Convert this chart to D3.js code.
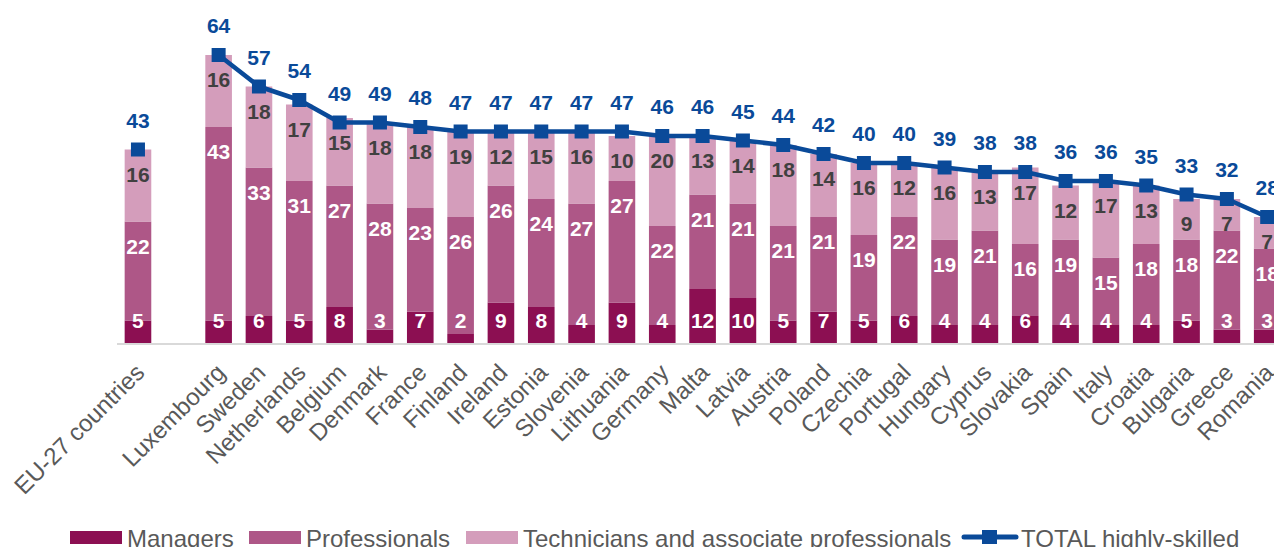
<!DOCTYPE html>
<html>
<head>
<meta charset="utf-8">
<script src="https://cdn.jsdelivr.net/npm/d3@7"></script>
<style>
  html, body { margin: 0; padding: 0; background: #ffffff; }
  svg { display: block; font-family: "Liberation Sans", Arial, sans-serif; }
</style>
</head>
<body>
<svg id="chart" width="1274" height="547"></svg>
<script>
// Highly-skilled employment shares by occupation group (%)
const countries = ["EU-27 countries", "", "Luxembourg", "Sweden", "Netherlands", "Belgium", "Denmark",
  "France", "Finland", "Ireland", "Estonia", "Slovenia", "Lithuania", "Germany", "Malta", "Latvia",
  "Austria", "Poland", "Czechia", "Portugal", "Hungary", "Cyprus", "Slovakia", "Spain", "Italy",
  "Croatia", "Bulgaria", "Greece", "Romania"];
const managers      = [5, null, 5, 6, 5, 8, 3, 7, 2, 9, 8, 4, 9, 4, 12, 10, 5, 7, 5, 6, 4, 4, 6, 4, 4, 4, 5, 3, 3];
const professionals = [22, null, 43, 33, 31, 27, 28, 23, 26, 26, 24, 27, 27, 22, 21, 21, 21, 21, 19, 22, 19, 21, 16, 19, 15, 18, 18, 22, 18];
const technicians   = [16, null, 16, 18, 17, 15, 18, 18, 19, 12, 15, 16, 10, 20, 13, 14, 18, 14, 16, 12, 16, 13, 17, 12, 17, 13, 9, 7, 7];
const totals        = [43, null, 64, 57, 54, 49, 49, 48, 47, 47, 47, 47, 47, 46, 46, 45, 44, 42, 40, 40, 39, 38, 38, 36, 36, 35, 33, 32, 28];

const seriesNames = ["Managers", "Professionals", "Technicians and associate professionals"];
const seriesColors = ["#8c0f52", "#ae5787", "#d49dbb"];
const labelColors = ["#ffffff", "#ffffff", "#404040"];
const lineName = "TOTAL highly-skilled";
const lineColor = "#0a4a99";

const svg = d3.select("#chart");
const keys = countries.map(c => c === "" ? "__gap" : c);

const x = d3.scaleBand().domain(keys).range([117.8, 117.8 + 29 * 40.33]).paddingInner(0.34).paddingOuter(0.17);
const y = d3.scaleLinear().domain([0, 70]).range([343, 28]);

const rows = countries.map((c, i) => ({
  key: keys[i], name: c,
  vals: [managers[i], professionals[i], technicians[i]],
  total: totals[i]
})).filter(d => d.total !== null);

const stackData = rows.map(d => ({ key: d.key, s0: d.vals[0], s1: d.vals[1], s2: d.vals[2] }));
const stacked = d3.stack().keys(["s0", "s1", "s2"])(stackData);

// Stacked bars
const gBars = svg.append("g");
stacked.forEach((layer, li) => {
  gBars.selectAll(null).data(layer).enter().append("rect")
    .attr("x", d => x(d.data.key))
    .attr("width", x.bandwidth())
    .attr("y", d => y(d[1]))
    .attr("height", d => y(d[0]) - y(d[1]))
    .attr("fill", seriesColors[li]);
});

// Category axis baseline
svg.append("line")
  .attr("x1", 117).attr("x2", 1274)
  .attr("y1", y(0) + 1).attr("y2", y(0) + 1)
  .attr("stroke", "#d9d9d9").attr("stroke-width", 2);

// Segment value labels: managers at the bar base, the others just inside the segment top
const gLab = svg.append("g").attr("font-weight", "bold").attr("font-size", 21).attr("text-anchor", "middle");
stacked.forEach((layer, li) => {
  gLab.selectAll(null).data(layer).enter().append("text")
    .attr("x", d => x(d.data.key) + x.bandwidth() / 2)
    .attr("y", d => li === 0 ? y(0) - 15 : y(d[1]) + 32)
    .attr("fill", labelColors[li])
    .text(d => d[1] - d[0]);
});

// Total line (EU aggregate shown as a standalone marker)
const countryRows = rows.filter(d => d.key !== "EU-27 countries");
const line = d3.line().x(d => x(d.key) + x.bandwidth() / 2).y(d => y(d.total));
svg.append("path").datum(countryRows)
  .attr("d", line).attr("fill", "none")
  .attr("stroke", lineColor).attr("stroke-width", 4.5).attr("stroke-linejoin", "round");

const ms = 14;
svg.append("g").selectAll("rect").data(rows).enter().append("rect")
  .attr("x", d => x(d.key) + x.bandwidth() / 2 - ms / 2)
  .attr("y", d => y(d.total) - ms / 2)
  .attr("width", ms).attr("height", ms)
  .attr("fill", lineColor);

svg.append("g").attr("font-weight", "bold").attr("font-size", 21).attr("text-anchor", "middle")
  .attr("fill", lineColor)
  .selectAll("text").data(rows).enter().append("text")
  .attr("x", d => x(d.key) + x.bandwidth() / 2)
  .attr("y", d => y(d.total) - 22)
  .text(d => d.total);

// Rotated category labels
const xAxis = d3.axisBottom(x).tickSize(0).tickFormat(k => k === "__gap" ? "" : k);
const gx = svg.append("g").attr("transform", `translate(0,${y(0)})`).call(xAxis);
gx.select(".domain").remove();
gx.selectAll("text")
  .attr("font-family", "Liberation Sans, Arial, sans-serif")
  .attr("font-size", 24)
  .attr("fill", "#595959")
  .attr("text-anchor", "end")
  .attr("dy", null)
  .attr("y", 0)
  .attr("transform", "translate(8,31) rotate(-45)");

// Legend
const legend = svg.append("g").attr("font-size", 24).attr("fill", "#595959");
const legendX = [70, 249, 466];
seriesNames.forEach((n, i) => {
  legend.append("rect").attr("x", legendX[i]).attr("y", 531).attr("width", 52).attr("height", 13).attr("fill", seriesColors[i]);
  legend.append("text").attr("x", legendX[i] + 57).attr("y", 547).attr("fill", "#595959").text(n);
});
legend.append("line").attr("x1", 964).attr("x2", 1016).attr("y1", 537).attr("y2", 537)
  .attr("stroke", lineColor).attr("stroke-width", 5).attr("stroke-linecap", "round");
legend.append("rect").attr("x", 989.5 - 7.5).attr("y", 537 - 7).attr("width", 15).attr("height", 14).attr("fill", lineColor);
legend.append("text").attr("x", 1021).attr("y", 547).attr("fill", "#595959").text(lineName);
</script>
</body>
</html>
